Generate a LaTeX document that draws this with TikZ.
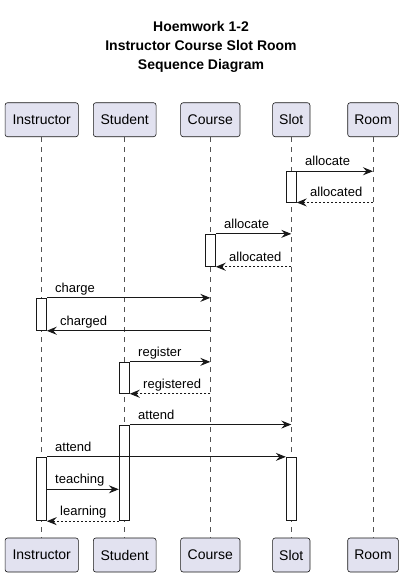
\documentclass[tikz,border=0pt]{standalone}
\usepackage{fontspec}
\setmainfont{Liberation Sans}
\usetikzlibrary{arrows.meta,calc}
\definecolor{pfill}{HTML}{E2E2F0}
\definecolor{ink}{HTML}{181818}
\begin{document}
\begin{tikzpicture}[x=1pt,y=-1pt,
  part/.style={draw=ink, line width=0.6pt, fill=pfill, rounded corners=2.5pt,
    inner sep=0pt, minimum height=34pt, font=\fontsize{14}{16}\selectfont, text=black},
  life/.style={draw=ink!75, line width=0.6pt, dash pattern=on 5pt off 5pt},
  act/.style={draw=ink, line width=0.9pt, fill=white, inner sep=0pt, minimum width=10pt},
  msg/.style={draw=ink, line width=0.9pt, -{Stealth[length=10pt,width=8pt,inset=3.5pt]}},
  ret/.style={msg, dash pattern=on 2pt off 2pt},
  lbl/.style={font=\fontsize{13}{15}\selectfont, text=black, inner sep=0pt},
  ttl/.style={font=\bfseries\fontsize{14}{16}\selectfont, text=black, inner sep=0pt, anchor=base}
]
\useasboundingbox (0,0) rectangle (403,576);
% title
\node[ttl] (t1) at (201,31) {Hoemwork 1-2};
\node[ttl] (t2) at (201,50) {Instructor Course Slot Room};
\node[ttl] (t3) at (201,69) {Sequence Diagram};
% participants top
\node[part, minimum width=73.3pt] (iT) at (41.7,119.7) {Instructor};
\node[part, minimum width=62.7pt] (sT) at (124.7,119.7) {Student};
\node[part, minimum width=59.3pt] (cT) at (210.3,119.7) {Course};
\node[part, minimum width=37.3pt] (slT) at (291.3,119.7) {Slot};
\node[part, minimum width=50.6pt] (rT) at (373,119.7) {Room};
% participants bottom
\node[part, minimum width=73.3pt] (iB) at (41.7,555) {Instructor};
\node[part, minimum width=62.7pt] (sB) at (124.7,555) {Student};
\node[part, minimum width=59.3pt] (cB) at (210.3,555) {Course};
\node[part, minimum width=37.3pt] (slB) at (291.3,555) {Slot};
\node[part, minimum width=50.6pt] (rB) at (373,555) {Room};
% lifelines
\draw[life] (iT.south) -- (iB.north);
\draw[life] (sT.south) -- (sB.north);
\draw[life] (cT.south) -- (cB.north);
\draw[life] (slT.south) -- (slB.north);
\draw[life] (rT.south) -- (rB.north);
% activations
\node[act, minimum height=30.3pt] (a1) at (291.3,186.85) {};
\node[act, minimum height=32pt] (a2) at (210.3,250.3) {};
\node[act, minimum height=32pt] (a3) at (41.3,314.3) {};
\node[act, minimum height=31pt] (a4) at (124.3,377.8) {};
\node[act, minimum height=95.7pt] (a5) at (124.3,472.85) {};
\node[act, minimum height=63.4pt] (a6) at (41.3,489) {};
\node[act, minimum height=63.4pt] (a7) at (291.3,489) {};
\coordinate (tY) at (0,489.3);
% messages
\draw[msg] (a1.north east) -- (a1.north east -| rT.south)
  node[lbl, pos=0, anchor=base west, xshift=8pt, yshift=5.5pt] {allocate};
\draw[ret] (a1.south east -| rT.south) -- (a1.south east)
  node[lbl, pos=1, anchor=base west, xshift=13pt, yshift=5.5pt] {allocated};
\draw[msg] (a2.north east) -- (a2.north east -| slT.south)
  node[lbl, pos=0, anchor=base west, xshift=8pt, yshift=5.5pt] {allocate};
\draw[ret] (a2.south east -| slT.south) -- (a2.south east)
  node[lbl, pos=1, anchor=base west, xshift=13pt, yshift=5.5pt] {allocated};
\draw[msg] (a3.north east) -- (a3.north east -| cT.south)
  node[lbl, pos=0, anchor=base west, xshift=8pt, yshift=5.5pt] {charge};
\draw[msg] (a3.south east -| cT.south) -- (a3.south east)
  node[lbl, pos=1, anchor=base west, xshift=13pt, yshift=5.5pt] {charged};
\draw[msg] (a4.north east) -- (a4.north east -| cT.south)
  node[lbl, pos=0, anchor=base west, xshift=8pt, yshift=5.5pt] {register};
\draw[ret] (a4.south east -| cT.south) -- (a4.south east)
  node[lbl, pos=1, anchor=base west, xshift=13pt, yshift=5.5pt] {registered};
\draw[msg] (a5.north east) -- (a5.north east -| slT.south)
  node[lbl, pos=0, anchor=base west, xshift=8pt, yshift=5.5pt] {attend};
\draw[msg] (a6.north east) -- (a7.north west)
  node[lbl, pos=0, anchor=base west, xshift=8pt, yshift=5.5pt] {attend};
\draw[msg] (a6.east |- tY) -- (a5.west |- tY)
  node[lbl, pos=0, anchor=base west, xshift=8pt, yshift=5.5pt] {teaching};
\draw[ret] (a5.south west) -- (a6.south east)
  node[lbl, pos=1, anchor=base west, xshift=13pt, yshift=5.5pt] {learning};
\end{tikzpicture}
\end{document}
